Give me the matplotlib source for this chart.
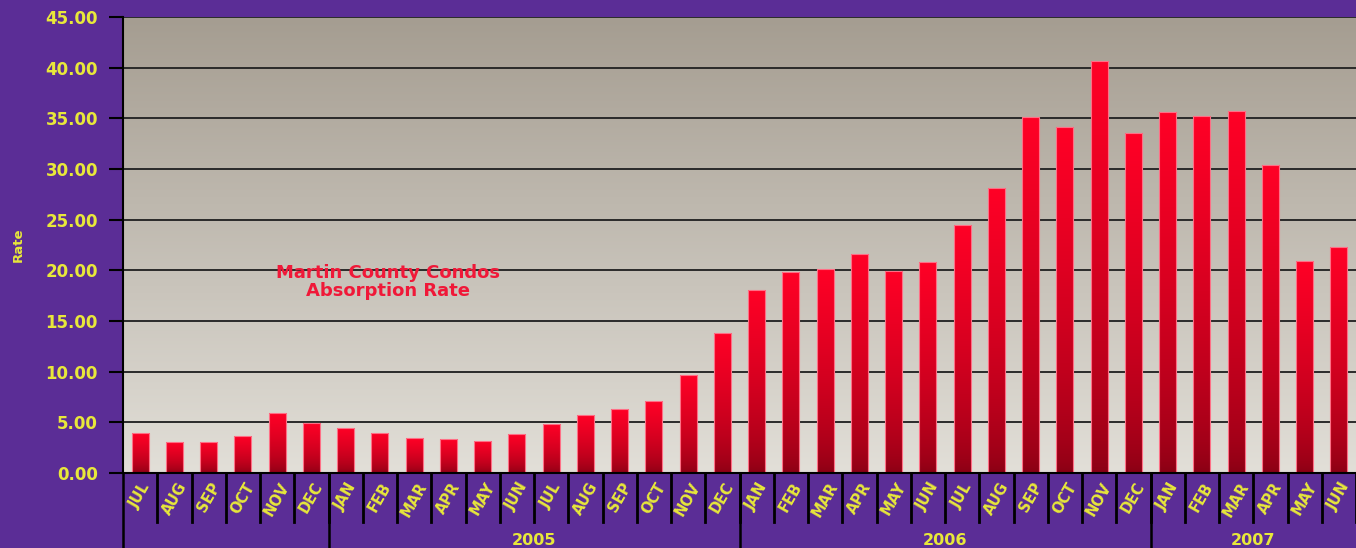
import numpy as np
import matplotlib
matplotlib.use("Agg")
import matplotlib.pyplot as plt
import matplotlib.transforms as mtransforms

months = ["JUL", "AUG", "SEP", "OCT", "NOV", "DEC",
          "JAN", "FEB", "MAR", "APR", "MAY", "JUN", "JUL", "AUG", "SEP", "OCT", "NOV", "DEC",
          "JAN", "FEB", "MAR", "APR", "MAY", "JUN", "JUL", "AUG", "SEP", "OCT", "NOV", "DEC",
          "JAN", "FEB", "MAR", "APR", "MAY", "JUN"]
rates = [3.9, 3.1, 3.1, 3.7, 5.9, 4.95,
         4.45, 3.95, 3.45, 3.35, 3.2, 3.85, 4.85, 5.7, 6.3, 7.1, 9.65, 13.8,
         18.05, 19.8, 20.1, 21.6, 19.9, 20.8, 24.5, 28.1, 35.1, 34.1, 40.65, 33.6,
         35.6, 35.25, 35.7, 30.4, 20.95, 22.35]
# year groups: (label, first month index, last month index)
years = [("", 0, 5), ("2005", 6, 17), ("2006", 18, 29), ("2007", 30, 35)]
yticks = np.arange(0, 46, 5)

purple = "#5b2d96"
yellow = "#e8e83a"
font = "DejaVu Sans"

fig = plt.figure(figsize=(13.56, 5.48), dpi=100, facecolor=purple)
ax = fig.add_axes([123/1356, 1 - 473/548, 1 - 123/1356, (473 - 17)/548])

# background gradient of the plot area
top = np.array([165, 157, 145]) / 255
bot = np.array([226, 223, 216]) / 255
t = np.linspace(0, 1, 256)[:, None]
bg = (top * (1 - t) + bot * t)[:, None, :]
ax.imshow(bg, aspect="auto", extent=[0, 1, 0, 1], transform=ax.transAxes, zorder=0)

x = np.arange(len(rates))
bars = ax.bar(x, rates, width=0.5, color="none", edgecolor="#ff6f86", linewidth=0.8, zorder=3)

bright = np.array([255, 0, 38]) / 255
dark = np.array([135, 0, 20]) / 255
g = np.linspace(1, 0, 128)[:, None] ** 0.6
grad = (dark * (1 - g) + bright * g)[:, None, :]
for b in bars:
    x0, w, h = b.get_x(), b.get_width(), b.get_height()
    im = ax.imshow(grad, aspect="auto", extent=[x0, x0 + w, 0, h], zorder=2)
    im.set_clip_path(b)

ax.set_xlim(-0.5, len(rates) - 0.5)
ax.set_ylim(0, 45)
ax.set_yticks(yticks)
ax.set_yticklabels(["%.2f" % v for v in yticks], color=yellow, fontsize=12,
                   fontweight="bold", family=font)
ax.tick_params(axis="y", length=10, width=1.5, color="black", pad=8)
ax.set_axisbelow(True)
ax.yaxis.grid(True, color="#2a2a2a", linewidth=1.4)
ax.set_xticks([])
for s in ["top", "right"]:
    ax.spines[s].set_visible(False)
ax.spines["left"].set_linewidth(1.5)
ax.spines["bottom"].set_linewidth(1.5)
ax.spines["left"].set_zorder(4)
ax.spines["bottom"].set_zorder(4)

trans = mtransforms.blended_transform_factory(ax.transData, ax.transAxes)
for i, m in enumerate(months):
    ax.text(i, -0.015, m, transform=trans, rotation=60, ha="center", va="top",
            color=yellow, fontsize=10.5, fontweight="bold", family=font)
    ax.plot([i + 0.5, i + 0.5], [0, -0.107], transform=trans, color="black",
            linewidth=2, clip_on=False)
for lab, a, b in years:
    ax.plot([a - 0.5, a - 0.5], [0, -0.17], transform=trans, color="black",
            linewidth=1.8, clip_on=False)
    ax.text((a + b) / 2, -0.147, lab, transform=trans, ha="center", va="center",
            color=yellow, fontsize=11.5, fontweight="bold", family=font)

fig.text(18/1356, 1 - 245/548, "Rate", rotation=90, ha="center", va="center",
         color=yellow, fontsize=9.5, fontweight="bold", family=font)
ax.text(0.215, 0.419, "Martin County Condos\nAbsorption Rate", transform=ax.transAxes,
        ha="center", va="center", color="#f01838", fontsize=13, fontweight="bold",
        family=font, linespacing=1.0, zorder=4)

fig.savefig("out.png", dpi=100, facecolor=purple)
